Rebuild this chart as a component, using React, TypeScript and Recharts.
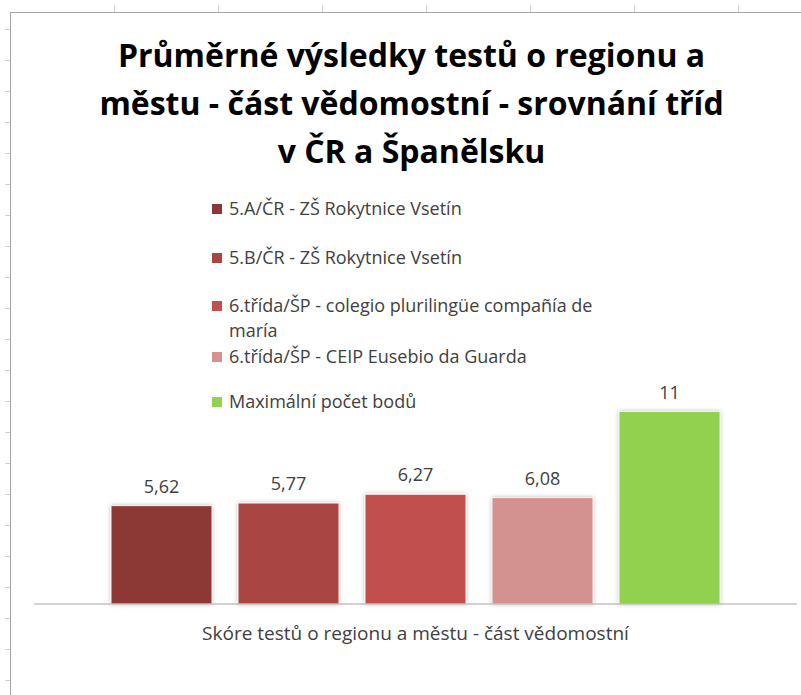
import * as React from "react";
import { BarChart, Bar, XAxis, YAxis, LabelList } from "recharts";

// one category, five series
const categories = ["Skóre testů o regionu a městu - část vědomostní"];
const seriesNames = [
  "5.A/ČR - ZŠ Rokytnice Vsetín",
  "5.B/ČR - ZŠ Rokytnice Vsetín",
  "6.třída/ŠP - colegio plurilingüe compañía de maría",
  "6.třída/ŠP - CEIP Eusebio da Guarda",
  "Maximální počet bodů",
];
const seriesValues = [5.62, 5.77, 6.27, 6.08, 11];
const seriesColors = ["#8C3836", "#A94543", "#C0504D", "#D39290", "#92D050"];

const chartData = categories.map((name) => {
  const row: Record<string, string | number> = { name };
  seriesNames.forEach((s, i) => {
    row["s" + i] = seriesValues[i];
  });
  return row;
});

const FONT = "'Open Sans', 'Noto Sans', sans-serif";

const fmt = (v: any) => String(v).replace(".", ",");

// first-line centre of each legend row, as laid out in the original
const legendRows = [208, 257, 305, 356, 401];

function LegendBox() {
  return (
    <div style={{ position: "absolute", left: 0, top: 0, fontFamily: FONT, fontSize: 18, color: "#404040" }}>
      {seriesNames.map((s, i) => (
        <div key={s} style={{ position: "absolute", left: 212, top: legendRows[i] - 12.5, display: "flex", alignItems: "flex-start", lineHeight: "25px", width: 420 }}>
          <span style={{ display: "inline-block", width: 10, height: 10, background: seriesColors[i], marginTop: 8, marginRight: 7, flexShrink: 0 }} />
          <span style={{ width: 395 }}>{s}</span>
        </div>
      ))}
    </div>
  );
}

function Frame() {
  const top = [114, 218, 322, 426, 530, 634, 738];
  const left: number[] = [];
  for (let y = 29; y < 695; y += 31) left.push(y);
  return (
    <svg width={801} height={695} style={{ position: "absolute", left: 0, top: 0, pointerEvents: "none" }}>
      <line x1={10.5} y1={12} x2={10.5} y2={695} stroke="#a6a6a6" />
      <line x1={10} y1={12.5} x2={801} y2={12.5} stroke="#a6a6a6" />
      {top.map((x) => (
        <line key={"t" + x} x1={x + 0.5} y1={5} x2={x + 0.5} y2={12} stroke="#d0d0d0" />
      ))}
      {left.map((y) => (
        <line key={"l" + y} x1={5} y1={y + 0.5} x2={10} y2={y + 0.5} stroke="#d0d0d0" />
      ))}
    </svg>
  );
}

export default function App() {
  return (
    <div style={{ position: "absolute", left: 0, top: 0, width: 801, height: 695, background: "#fff", overflow: "hidden" }}>
      <Frame />
      <div
        style={{
          position: "absolute",
          left: 0,
          width: 823,
          top: 31,
          textAlign: "center",
          fontFamily: FONT,
          fontWeight: 700,
          fontSize: 32,
          lineHeight: "48px",
          color: "#000",
        }}
      >
        Průměrné výsledky testů o regionu a
        <br />
        městu - část vědomostní - srovnání tříd
        <br />v ČR a Španělsku
      </div>
      <div style={{ position: "absolute", left: 0, top: 0 }}>
        <BarChart
          width={801}
          height={695}
          data={chartData}
          margin={{ top: 394, right: 4, bottom: 90, left: 34 }}
          barCategoryGap={77}
          barGap={26}
        >
          <defs>
            <filter id="shadow" x="-20%" y="-20%" width="140%" height="140%">
              <feDropShadow dx="0" dy="0" stdDeviation="2" floodColor="#000" floodOpacity="0.25" />
            </filter>
          </defs>
          <XAxis
            dataKey="name"
            tick={false}
            tickLine={false}
            axisLine={{ stroke: "#a6a6a6" }}
            height={1}
            label={{ value: categories[0], position: "insideBottom", offset: -35, fill: "#404040", fontSize: 19, fontFamily: FONT }}
          />
          <YAxis hide domain={[0, 12]} />
          {seriesNames.map((s, i) => (
            <Bar
              key={s}
              dataKey={"s" + i}
              name={s}
              fill={seriesColors[i]}
              stroke="#f4f4f4"
              strokeWidth={1}
              style={{ filter: "url(#shadow)" }}
              isAnimationActive={false}
            >
              <LabelList dataKey={"s" + i} position="top" offset={13} formatter={fmt} fill="#404040" fontSize={18} fontFamily={FONT} />
            </Bar>
          ))}
        </BarChart>
      </div>
      <LegendBox />
    </div>
  );
}
